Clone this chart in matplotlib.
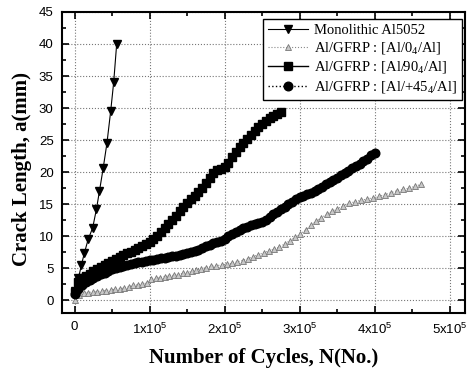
import matplotlib
matplotlib.use("Agg")
import matplotlib.pyplot as plt
from matplotlib.ticker import MultipleLocator, FixedLocator, FixedFormatter

# ---------------- data ----------------
mono_x = [0, 5e3, 9e3, 13e3, 18e3, 24e3, 29e3, 33e3, 38e3, 43e3, 48e3, 52e3, 56e3]
mono_y = [1.5, 3.4, 5.5, 7.4, 9.5, 11.3, 14.2, 17.0, 20.6, 24.5, 29.5, 34.0, 40.0]

deg0_x = [0, 6e3, 12e3, 18e3, 24e3, 30e3, 36e3, 42e3, 48e3, 54e3, 60e3, 66e3, 72e3, 78e3,
          84e3, 90e3, 96e3, 102e3, 108e3, 114e3, 120e3, 126e3, 132e3, 138e3, 144e3, 150e3,
          156e3, 162e3, 168e3, 175e3, 182e3, 189e3, 196e3, 203e3, 210e3, 217e3, 224e3,
          231e3, 238e3, 245e3, 252e3, 259e3, 266e3, 273e3, 280e3, 287e3, 294e3, 301e3,
          308e3, 315e3, 322e3, 329e3, 336e3, 343e3, 350e3, 358e3, 366e3, 374e3, 382e3,
          390e3, 398e3, 406e3, 414e3, 422e3, 430e3, 438e3, 446e3, 454e3, 462e3]
deg0_y = [0, 0.8, 1.1, 1.2, 1.3, 1.35, 1.45, 1.5, 1.6, 1.7, 1.8, 1.9, 2.1, 2.3, 2.4, 2.5,
          2.7, 3.3, 3.4, 3.5, 3.7, 3.8, 3.9, 4.0, 4.2, 4.3, 4.5, 4.7, 4.9, 5.1, 5.3, 5.4,
          5.5, 5.6, 5.8, 6.0, 6.2, 6.5, 6.8, 7.1, 7.4, 7.7, 8.0, 8.3, 8.8, 9.3, 9.8, 10.3,
          11.0, 11.7, 12.3, 12.9, 13.4, 13.9, 14.3, 14.7, 15.1, 15.4, 15.6, 15.8, 16.0,
          16.2, 16.5, 16.8, 17.1, 17.3, 17.5, 17.8, 18.1]

deg90_x = [0, 5e3, 10e3, 15e3, 20e3, 25e3, 30e3, 35e3, 40e3, 45e3, 50e3, 55e3, 60e3, 65e3,
           70e3, 75e3, 80e3, 85e3, 90e3, 95e3, 100e3, 105e3, 110e3, 115e3, 120e3, 125e3,
           130e3, 135e3, 140e3, 145e3, 150e3, 155e3, 160e3, 165e3, 170e3, 175e3, 180e3,
           185e3, 190e3, 195e3, 200e3, 205e3, 210e3, 215e3, 220e3, 225e3, 230e3, 235e3,
           240e3, 245e3, 250e3, 255e3, 260e3, 265e3, 270e3, 275e3]
deg90_y = [1.3, 2.9, 3.5, 3.8, 4.1, 4.5, 4.8, 5.2, 5.5, 5.8, 6.1, 6.4, 6.7, 7.0, 7.3, 7.6,
           7.9, 8.2, 8.5, 8.8, 9.1, 9.6, 10.1, 10.7, 11.3, 11.9, 12.6, 13.2, 13.9, 14.5,
           15.2, 15.8, 16.3, 16.9, 17.5, 18.3, 19.1, 19.9, 20.3, 20.5, 20.8, 21.5, 22.3,
           23.1, 23.9, 24.5, 25.2, 25.8, 26.4, 27.0, 27.5, 28.0, 28.4, 28.8, 29.1, 29.4]

deg45_x = [0, 5e3, 10e3, 15e3, 20e3, 25e3, 30e3, 35e3, 40e3, 45e3, 50e3, 55e3, 60e3, 65e3,
           70e3, 75e3, 80e3, 85e3, 90e3, 95e3, 100e3, 105e3, 110e3, 115e3, 120e3, 125e3,
           130e3, 135e3, 140e3, 145e3, 150e3, 155e3, 160e3, 165e3, 170e3, 175e3, 180e3,
           185e3, 190e3, 195e3, 200e3, 205e3, 210e3, 215e3, 220e3, 225e3, 230e3, 235e3,
           240e3, 245e3, 250e3, 255e3, 260e3, 265e3, 270e3, 275e3, 280e3, 285e3, 290e3,
           295e3, 300e3, 305e3, 310e3, 315e3, 320e3, 325e3, 330e3, 335e3, 340e3, 345e3,
           350e3, 355e3, 360e3, 365e3, 370e3, 375e3, 380e3, 385e3, 390e3, 395e3, 400e3]
deg45_y = [1.0, 1.8, 2.3, 2.8, 3.2, 3.5, 3.8, 4.1, 4.3, 4.6, 4.8, 5.0, 5.2, 5.4, 5.5, 5.7,
           5.8, 5.9, 6.0, 6.1, 6.25, 6.35, 6.45, 6.55, 6.65, 6.75, 6.85, 6.95, 7.05, 7.2,
           7.3, 7.5, 7.7, 7.9, 8.1, 8.4, 8.6, 8.9, 9.1, 9.3, 9.6, 10.0, 10.3, 10.6, 10.9,
           11.2, 11.4, 11.7, 11.9, 12.0, 12.2, 12.6, 13.0, 13.4, 13.8, 14.2, 14.6, 15.0,
           15.4, 15.8, 16.1, 16.3, 16.6, 16.8, 17.1, 17.4, 17.7, 18.1, 18.4, 18.75, 19.1,
           19.5, 19.8, 20.2, 20.6, 21.0, 21.3, 21.7, 22.1, 22.6, 23.0]

labels = ["Monolithic Al5052",
          r"Al/GFRP : [Al/0$_\mathregular{4}$/Al]",
          r"Al/GFRP : [Al/90$_\mathregular{4}$/Al]",
          r"Al/GFRP : [Al/+45$_\mathregular{4}$/Al]"]

xtick_vals = [0, 1e5, 2e5, 3e5, 4e5, 5e5]
xtick_labels = ["0", r"1x10$^\mathregular{5}$", r"2x10$^\mathregular{5}$",
                r"3x10$^\mathregular{5}$", r"4x10$^\mathregular{5}$", r"5x10$^\mathregular{5}$"]

# ---------------- figure ----------------
fig = plt.figure(figsize=(4.69, 3.74), dpi=100)
ax = fig.add_axes([0.132, 0.163, 0.859, 0.805])

ax.plot(mono_x, mono_y, color='black', lw=0.8, ls='-', marker='v', ms=6,
        label=labels[0], zorder=4)
ax.plot(deg0_x, deg0_y, color='#8a8a8a', lw=0.8, ls=':', marker='^', ms=3.8,
        mfc='#c8c8c8', mec='#777777', mew=0.6, label=labels[1], zorder=3)
ax.plot(deg90_x, deg90_y, color='black', lw=1.0, ls='-', marker='s', ms=6.2,
        label=labels[2], zorder=3)
ax.plot(deg45_x, deg45_y, color='black', lw=1.0, ls=':', marker='o', ms=6.2,
        label=labels[3], zorder=3)

ax.set_xlim(-1.7e4, 5.2e5)
ax.set_ylim(-2, 45)

ax.xaxis.set_major_locator(FixedLocator(xtick_vals))
ax.xaxis.set_major_formatter(FixedFormatter(xtick_labels))
ax.xaxis.set_minor_locator(MultipleLocator(5e4))
ax.yaxis.set_major_locator(MultipleLocator(5))
ax.yaxis.set_minor_locator(MultipleLocator(2.5))

ax.tick_params(which='both', direction='in', top=True, right=True, width=1.2)
ax.tick_params(which='major', length=5, labelsize=9.5, pad=6)
ax.tick_params(which='minor', length=3)
for lab in ax.get_xticklabels() + ax.get_yticklabels():
    lab.set_family('Liberation Sans')

ax.grid(True, which='major', ls=':', color='#777777', lw=0.8)
for s in ax.spines.values():
    s.set_linewidth(1.5)

ax.set_xlabel("Number of Cycles, N(No.)", family='Liberation Serif', weight='bold',
              fontsize=15, labelpad=8)
ax.set_ylabel("Crack Length, a(mm)", family='Liberation Serif', weight='bold',
              fontsize=15)
ax.yaxis.set_label_coords(-0.075, 0.478)

leg = ax.legend(loc='upper right', bbox_to_anchor=(1.0, 0.985), frameon=True,
                fancybox=False, edgecolor='black', framealpha=1,
                prop={'family': 'Liberation Serif', 'size': 10.5},
                handlelength=2.8, borderpad=0.3, labelspacing=0.22,
                handletextpad=0.4, borderaxespad=0.2)
leg.get_frame().set_linewidth(1.0)

fig.savefig("out.png", dpi=100)
